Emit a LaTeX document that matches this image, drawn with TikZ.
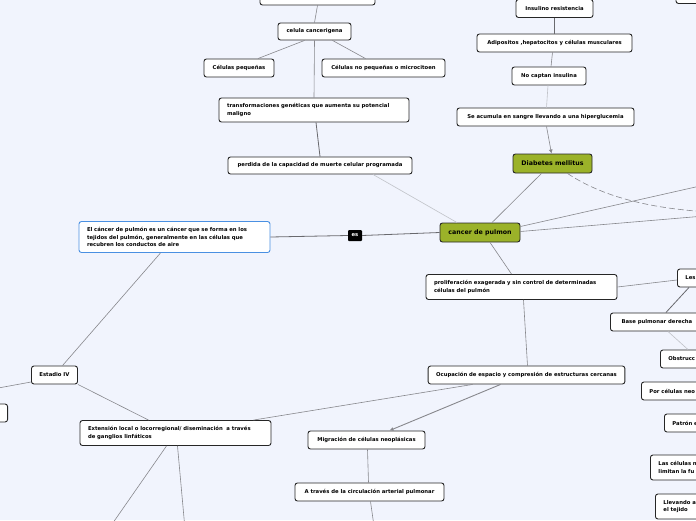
\documentclass[tikz,border=0pt]{standalone}
\usepackage{fontspec}
\setmainfont{DejaVu Sans}
\usetikzlibrary{arrows.meta,positioning,calc}
\definecolor{bgpage}{RGB}{241,244,253}
\definecolor{leafgreen}{RGB}{155,178,41}
\definecolor{rootblue}{RGB}{74,144,226}
\definecolor{linkgray}{RGB}{135,135,140}
\definecolor{darkgray}{RGB}{105,105,110}
\definecolor{palegray}{RGB}{192,194,200}

\begin{document}
\begin{tikzpicture}[x=1pt, y=-1pt,
    box/.style={draw=black!85, fill=white, rounded corners=2.5pt, line width=0.9pt, minimum height=18pt, inner xsep=8pt, inner ysep=2pt, font=\fontsize{5.3}{7.2}\selectfont\bfseries},
    lbox/.style={box, align=left, minimum height=25pt},
    green/.style={box, fill=leafgreen, minimum height=19pt, font=\fontsize{6.3}{7.5}\selectfont\bfseries},
    cutr/.style={box, anchor=west, align=left, minimum width=80pt, text width=64pt},
    tag/.style={fill=black, text=white, rounded corners=1pt, minimum width=14pt, minimum height=11pt, inner sep=1pt, font=\fontsize{5.3}{6}\selectfont\bfseries},
    conn/.style={draw=linkgray, line width=0.6pt},
    dark/.style={draw=darkgray, line width=0.8pt},
    faint/.style={draw=palegray, line width=0.6pt},
    arrow/.style={conn, -{Latex[length=4pt,width=4pt]}}
]
\useasboundingbox (0,0) rectangle (696,520);
\clip (0,0) rectangle (696,520);
\fill[bgpage] (0,0) rectangle (696,520);

\node[box, minimum width=115pt, minimum height=20pt] (top) at (317.5,-5) {};
\node[box, minimum width=64pt] (topr) at (708,-5.5) {};
\node[box, minimum width=73pt, minimum height=17pt] (cel) at (314.5,31.5) {celula cancerigena};
\node[box, minimum width=70pt] (cpeq) at (239,68) {Células pequeñas};
\node[box, minimum width=123pt] (cnopeq) at (383.5,68) {Células no pequeñas o microcitoen};
\node[lbox, text width=174pt, minimum height=24pt] (trans) at (314,110) {transformaciones genéticas que aumenta su potencial\\maligno};
\node[box, minimum width=184pt, minimum height=17pt] (perd) at (320,165.5) {perdida de la capacidad de muerte celular programada};
\node[lbox, draw=rootblue, text width=175pt, minimum height=31pt] (def) at (174.5,237) {El cáncer de pulmón es un cáncer que se forma en los\\tejidos del pulmón, generalmente en las células que\\recubren los conductos de aire};
\node[tag] (es) at (355,235.5) {es};
\node[green, minimum width=80pt] (cancer) at (480,232.5) {cancer de pulmon};
\node[green, minimum width=79pt] (diab) at (552.5,163.5) {Diabetes mellitus};
\node[box, minimum width=77pt] (insu) at (554.5,8.5) {Insulino resistencia};
\node[box, minimum width=155pt] (adip) at (554.5,43) {Adipositos ,hepatocitos y células musculares};
\node[box, minimum width=74pt] (nocap) at (549,76) {No captan insulina};
\node[box, minimum width=177pt] (acum) at (545.5,117) {Se acumula en sangre llevando a una hiperglucemia};
\node[lbox, text width=175pt, minimum height=25pt] (prolif) at (521.5,287) {proliferación exagerada y sin control de determinadas\\células del pulmón};
\node[cutr] (les) at (677,278) {Les};
\node[box, anchor=west, align=left, minimum width=93pt] (base) at (610,322) {Base pulmonar derecha};
\node[cutr] (obst) at (660,359) {Obstrucc};
\node[box, minimum width=185pt] (ocup) at (526.5,375) {Ocupación de espacio y compresión de estructuras cercanas};
\node[cutr] (porcel) at (641,391) {Por células neo};
\node[cutr] (patron) at (664,423) {Patrón e};
\node[cutr, minimum height=25pt] (lascel) at (650,467.5) {Las células n\\limitan la fu};
\node[cutr, minimum height=25pt] (llev) at (655,506.5) {Llevando a\\el tejido};
\node[box, minimum width=45pt] (est) at (54.5,375) {Estadio IV};
\node[box, anchor=east, align=right, minimum width=50pt] (lcut) at (8,413) {s};
\node[lbox, text width=175pt] (ext) at (175.5,433) {Extensión local o locorregional/ diseminación\ \ a través\\de ganglios linfáticos};
\node[box, minimum width=117pt] (migr) at (366.5,440) {Migración de células neoplásicas};
\node[box, minimum width=149pt] (atrav) at (369.5,492) {A través de la circulación arterial pulmonar};

\coordinate (offa) at (740,213);
\coordinate (offb) at (740,177);
\coordinate (offc) at (376,540);
\coordinate (offd) at (-40,395);
\coordinate (offe) at (101,540);
\coordinate (offf) at (186,540);

\draw[conn] (top.south) -- (cel.north);
\draw[conn] ([xshift=-10pt]cel.south) -- ([xshift=19pt]cpeq.north);
\draw[conn] ([xshift=18pt]cel.south) -- ([xshift=-18pt]cnopeq.north);
\draw[conn] (cel.south) -- (trans.north);
\draw[dark] ([xshift=2pt]trans.south) -- (perd.north);
\draw[faint] ([xshift=53pt]perd.south) -- ([xshift=-23pt]cancer.north);
\draw[dark] (def.east) -- (es.west);
\draw[dark] (es.east) -- (cancer.west);
\draw[conn] ([xshift=-11pt]diab.south) -- ([xshift=12pt]cancer.north);
\draw[dark] (insu.south) -- (adip.north);
\draw[conn] ([xshift=-2pt]adip.south) -- ([xshift=2pt]nocap.north);
\draw[faint] ([xshift=-1pt]nocap.south) -- ([xshift=1pt]acum.north);
\draw[arrow] ([xshift=1pt]acum.south) -- ([xshift=-1pt]diab.north);
\draw[conn, dashed, dash pattern=on 6pt off 3pt] ([xshift=15pt]diab.south) .. controls (600,195) and (650,212) .. (offa);
\draw[conn] ($(cancer.east)+(0,-6)$) -- (offb);
\draw[conn] ($(cancer.east)+(0,-1)$) -- (offa);
\draw[conn] ([xshift=10pt]cancer.south) -- ([xshift=-10pt]prolif.north);
\draw[conn] (prolif.east) -- ([yshift=-2pt]les.west);
\draw[dark] ([xshift=12pt]les.south west) -- ([xshift=-38pt]base.north east);
\draw[faint] ([xshift=11pt]base.south) -- ([xshift=28pt]obst.north west);
\draw[conn] ([xshift=2pt]prolif.south) -- ([xshift=1pt]ocup.north);
\draw[conn] ([xshift=-54pt]ocup.south) -- ([xshift=78pt]ext.north);
\draw[arrow, line width=0.9pt] ([xshift=-26pt]ocup.south) -- ([xshift=23pt]migr.north);
\draw[conn] ([xshift=1pt]migr.south) -- ([xshift=-1pt]atrav.north);
\draw[conn] ([xshift=1pt]atrav.south) -- (offc);
\draw[conn] ([xshift=-14pt]def.south) -- ([xshift=8pt]est.north);
\draw[conn] ([yshift=-7pt]est.west) -- (offd);
\draw[conn] (est.south east) -- ([xshift=-27pt]ext.north);
\draw[conn] ([xshift=-9pt]ext.south) -- (offe);
\draw[conn] ([xshift=2pt]ext.south) -- (offf);
\end{tikzpicture}
\end{document}
